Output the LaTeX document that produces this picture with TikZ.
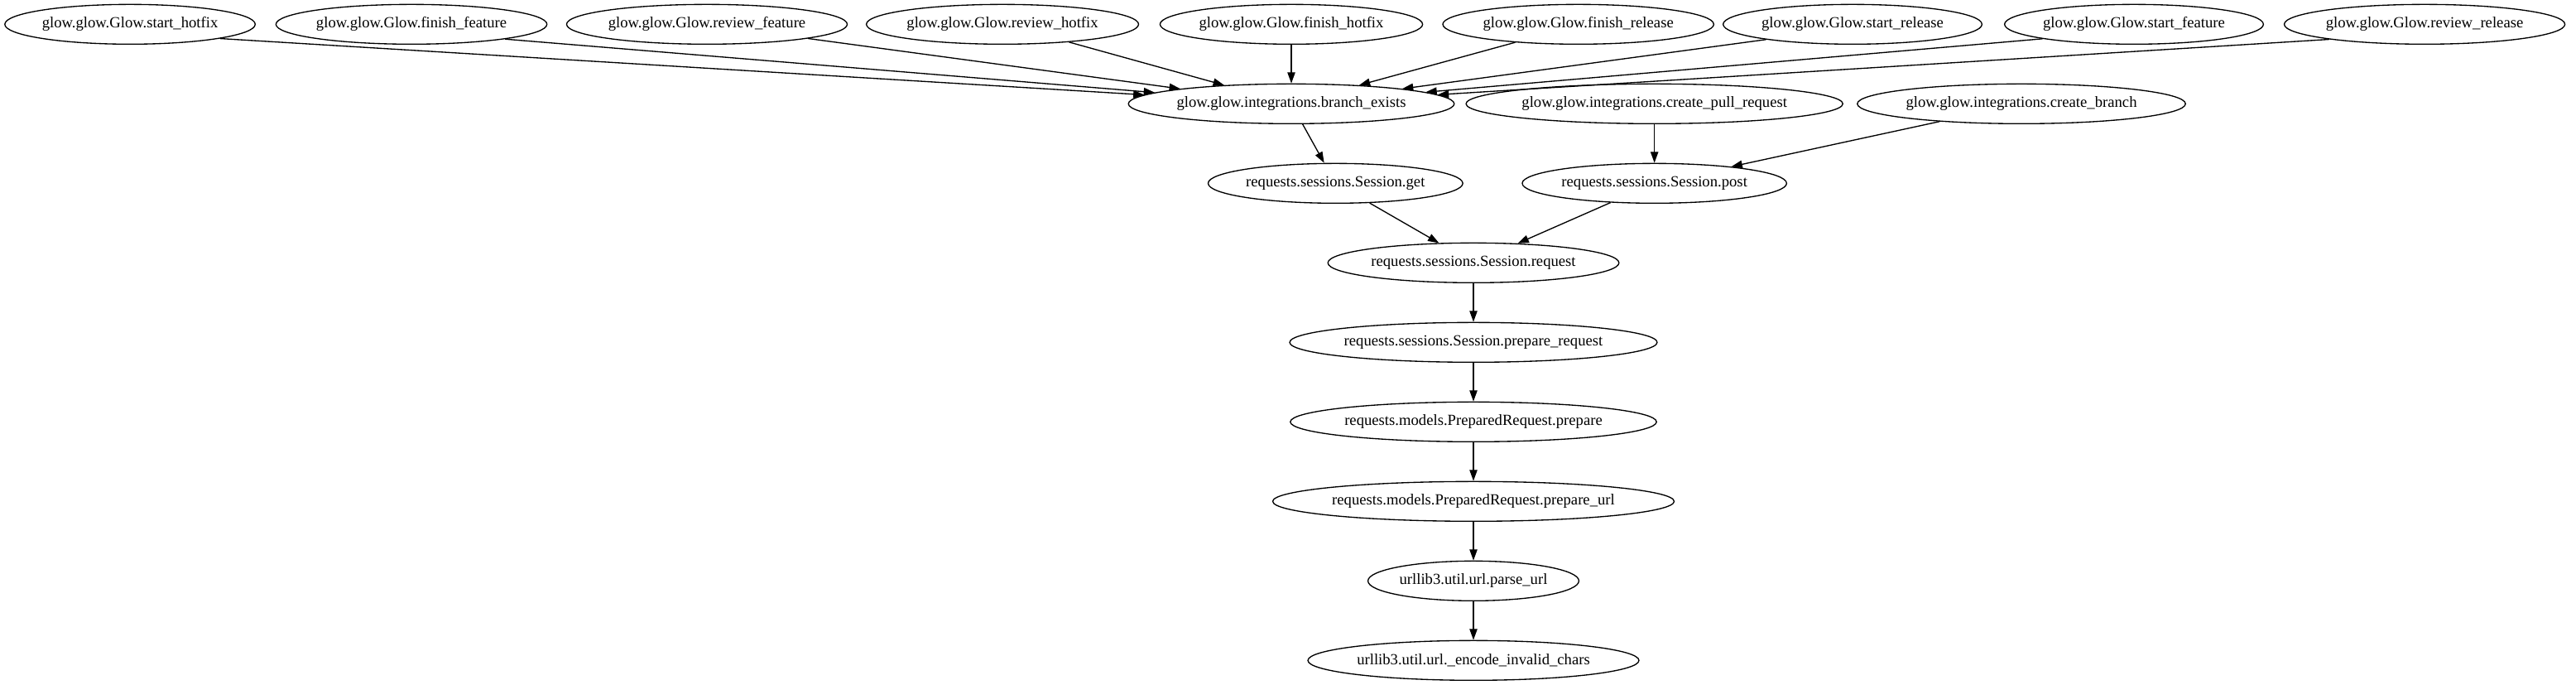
\documentclass[tikz,border=0pt]{standalone}
\usepackage{fontspec}
\setmainfont{Liberation Serif}
\usetikzlibrary{shapes.geometric,arrows.meta}
\begin{document}
\begin{tikzpicture}[x=1pt,y=1pt,
        func/.style={draw,ellipse,line width=1pt,inner xsep=0.5pt,inner ysep=0pt,minimum height=36pt,font=\fontsize{14}{16}\selectfont},
        call/.style={-{Triangle[length=10pt,width=7pt]},line width=1pt}]
                \useasboundingbox (0,0) rectangle (2334,620);
                \node[func] (exists) at (1170,526) {glow.glow.integrations.branch\_exists};
                \node[func] (pullreq) at (1499,526) {glow.glow.integrations.create\_pull\_request};
                \node[func] (newbranch) at (1831.5,526) {glow.glow.integrations.create\_branch};
                \node[func] (get) at (1210,454) {requests.sessions.Session.get};
                \node[func] (post) at (1499,454) {requests.sessions.Session.post};
                \node[func] (request) at (1335,382) {requests.sessions.Session.request};
                \node[func] (prepreq) at (1335,310) {requests.sessions.Session.prepare\_request};
                \node[func] (prepare) at (1335,238) {requests.models.PreparedRequest.prepare};
                \node[func] (prepurl) at (1335,166) {requests.models.PreparedRequest.prepare\_url};
                \node[func] (parseurl) at (1335,94) {urllib3.util.url.parse\_url};
                \node[func] (encode) at (1335,22) {urllib3.util.url.\_encode\_invalid\_chars};
                % callers of branch_exists, with the angle their edge leaves at
                \foreach \nm/\lbl/\x/\a in {sh/start\_hotfix/117.8/-9,ff/finish\_feature/372.8/-9,rf/review\_feature/640.5/-8,
                    rh/review\_hotfix/908.3/-15,fh/finish\_hotfix/1170/-90,fr/finish\_release/1430/-164,
                    sr/start\_release/1678.5/-170,sf/start\_feature/1933.5/-171,rr/review\_release/2196.8/-171}
                {
                    \node[func] (\nm) at (\x,598) {glow.glow.Glow.\lbl};
                    \draw[call] (\nm.\a) -- (exists);
                }
                \foreach \a/\b in {exists/get,pullreq/post,newbranch/post,get/request,post/request,
                    request/prepreq,prepreq/prepare,prepare/prepurl,prepurl/parseurl,parseurl/encode}
                    \draw[call] (\a) -- (\b);
            \end{tikzpicture}
\end{document}
